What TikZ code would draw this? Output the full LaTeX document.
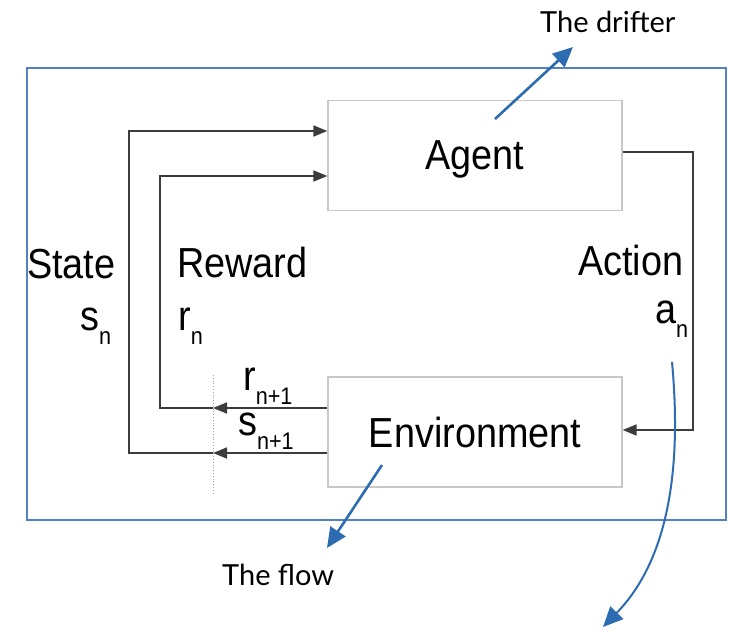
\documentclass[tikz,border=0pt]{standalone}
\usepackage{fontspec}
\setmainfont{Liberation Sans}
\newfontfamily\diagfont{Liberation Sans}[FakeStretch=0.9]
\newfontfamily\notefont{Lato}
\usepackage{xcolor}
\usepackage{tikz}
\usetikzlibrary{arrows.meta,positioning,calc}
\definecolor{framebl}{RGB}{84,128,196}
\definecolor{arrbl}{RGB}{46,108,178}
\definecolor{linegr}{RGB}{60,60,60}
\definecolor{boxgr}{RGB}{200,200,200}
\newcommand{\lowsub}[1]{\raisebox{-14pt}{\fontsize{24}{24}\selectfont #1}}

\begin{document}
\begin{tikzpicture}[x=1pt,y=-1pt,
box/.style={draw=boxgr,line width=1.2pt,minimum width=294pt,minimum height=110pt,inner sep=0pt,text depth=0pt,font=\diagfont\fontsize{42}{44}\selectfont},
lbl/.style={inner sep=0pt,anchor=base west,font=\diagfont\fontsize{42}{44}\selectfont},
note/.style={inner sep=0pt,anchor=base west,font=\notefont\fontsize{29}{31}\selectfont},
arr/.style={draw=linegr,line width=1.6pt},
tip/.style={arr,-{Triangle[length=14pt,width=11pt]}},
blu/.style={draw=arrbl,line width=2.6pt,-{Triangle[length=20pt,width=18pt]}}
]
\useasboundingbox (0,0) rectangle (731,631);
\node[draw=framebl,line width=1.6pt,minimum width=699pt,minimum height=452pt,inner sep=0pt] (frm) at (376.5,294) {};
\node[box] (ag) at (475,155.5) {Agent};
\node[box] (env) at (475,432) {Environment};
\node[lbl] (st) at (27,278) {State};
\node[lbl] (sn) at (80,330) {s\lowsub{n}};
\node[lbl] (rw) at (177,277) {Reward};
\node[lbl] (rn) at (178,330) {r\lowsub{n}};
\node[lbl] (act) at (578,275) {Action};
\node[lbl] (an) at (655,323) {a\lowsub{n}};
\node[lbl] (rn1) at (243,390) {r\lowsub{n+1}};
\node[lbl] (sn1) at (238,435) {s\lowsub{n+1}};
\node[note] (dr) at (540,33) {The drifter};
\node[note] (fl) at (222,585) {The flow};
\draw[boxgr!80!black,dotted,line width=0.8pt] (213,375) -- (213,493);
\coordinate (sm) at (213,453);
\coordinate (sc) at (129,131);
\coordinate (rm) at (213,408);
\coordinate (rc) at (160,176);
\coordinate (ae) at (693,430);
\coordinate (aend) at (603,627);
\draw[tip] ([yshift=-21pt]env.west) -- (sm);
\draw[tip] (sm) -| (sc) -- ([yshift=24.5pt]ag.west);
\draw[tip] ([yshift=24pt]env.west) -- (rm);
\draw[tip] (rm) -| (rc) -- ([yshift=-20.5pt]ag.west);
\draw[tip] ([yshift=3.5pt]ag.east) -| (ae) -- ([yshift=2pt]env.east);
\draw[blu] ([xshift=20pt,yshift=36.5pt]ag.center) -- ([xshift=33pt,yshift=-14pt]dr.base west);
\draw[blu] ([xshift=-93pt,yshift=-33pt]env.center) -- ([xshift=105pt,yshift=37pt]fl.base west);
\draw[blu,line width=2pt] ([xshift=17pt,yshift=-39pt]an.base west) .. controls (682,470) and (668,560) .. (aend);
\end{tikzpicture}
\end{document}
